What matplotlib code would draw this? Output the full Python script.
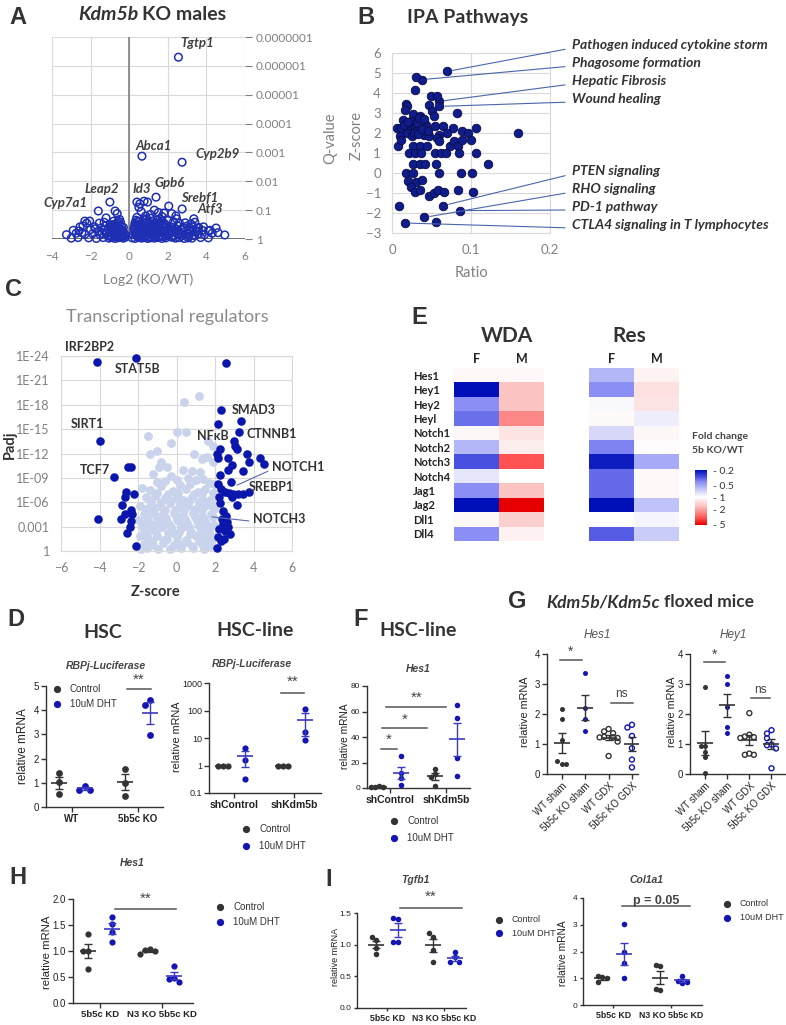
import numpy as np
import matplotlib
matplotlib.use("Agg")
import matplotlib.pyplot as plt
from matplotlib.colors import LinearSegmentedColormap, LogNorm
from matplotlib.lines import Line2D
from matplotlib.ticker import NullLocator

plt.rcParams['font.family'] = ['Liberation Sans', 'DejaVu Sans']
XL = ['Lato', 'DejaVu Sans']

# ---------------- A: volcano, Kdm5b KO males ----------------
volc_log2fc = [
    2.55, 0.66, 2.74, 1.39, -1.00, 0.40, 0.55, 0.77, 0.95, 2.05,
    2.74, -1.60, -0.73, -0.62, -1.20, -0.58, 0.50, 0.62, 1.30, 1.52,
    1.10, 1.80, 2.20, 2.42, 1.70, 0.35, 0.90, -2.30, -2.20, -1.30,
    -0.80, -0.50, 0.50, 0.80, 1.20, 1.60, 2.00, 2.30, 2.90, 3.20,
    3.40, -2.40, -1.80, -1.00, -0.90, -0.70, -0.40, 0.30, 0.60, 0.90,
    1.10, 1.40, 1.70, 1.90, 2.20, 2.50, 2.80, 3.00, 3.30, 3.60,
    4.50, -2.90, -2.60, -2.00, -1.60, -1.30, -1.10, -0.95, -0.80, -0.65,
    -0.50, -0.35, 0.25, 0.45, 0.70, 0.85, 1.00, 1.25, 1.45, 1.60,
    1.85, 2.05, 2.30, 2.55, 2.75, 2.95, 3.15, 3.45, 3.80, 4.10,
    4.60, -3.25, -2.75, -2.30, -1.90, -1.50, -1.20, -1.00, -0.85, -0.70,
    -0.55, -0.40, -0.25, 0.20, 0.35, 0.55, 0.75, 0.90, 1.05, 1.20,
    1.40, 1.55, 1.75, 1.95, 2.10, 2.30, 2.50, 2.70, 2.90, 3.10,
    3.30, 3.60, 3.90, 4.30, 4.95, -3.00, -2.65, -2.10, -1.70, -1.35,
    -1.05, -0.90, -0.75, -0.60, -0.45, -0.30, 0.15, 0.30, 0.50, 0.65,
    0.80, 0.95, 1.10, 1.30, 1.50, 1.70, 1.90, 2.20, 2.40, 2.60,
    2.85, 3.05, 3.25, 3.70, 4.10, -0.85, -0.60, -0.45, 0.30, 0.55,
    0.75, 1.00, 1.35, 1.55, 1.80, -0.75, -0.55, 0.40, 0.65, 1.15,
    1.35, 1.65, 2.00, 2.40, -0.95, -0.65, 0.50, 0.85, 1.30, 1.75,
    -2.05, -1.55, -1.75, 3.55, 3.85, 4.20, 3.35, -2.55, -0.30, 0.28,
    -0.95, -0.85, -0.75, -0.65, -0.55, -0.45, -0.35, -0.25, -0.90, -0.70,
    -0.50, -0.30, -0.80, -0.60, -0.40, -1.05, -1.15, -0.20, -0.62, -0.48,
    0.25, 0.35, 0.45, 0.55, 0.65, 0.75, 0.85, 0.95, 1.05, 1.15,
    1.25, 1.35, 1.45, 1.55, 1.65, 1.75, 1.85, 1.95, 2.05, 2.15,
    0.30, 0.40, 0.60, 0.70, 0.90, 1.00, 1.20, 1.30, 1.50, 1.60,
    1.80, 1.90, 2.00, 2.20, 2.30, 2.40, 2.60, 2.70, 2.80, 3.00,
    0.45, 0.70, 0.95, 1.20, 1.45, 1.70, 0.40, 0.85, 1.10, 1.60,
    3.10, 3.20, 3.40, 3.50, 2.60, 2.45, -1.40, -1.25, -1.45, -2.45,
]
volc_neglogp = [
    6.30, 2.87, 2.66, 1.45, 1.28, 1.28, 1.22, 1.31, 1.28, 1.14,
    1.04, 0.97, 0.97, 0.88, 0.73, 0.62, 1.10, 0.95, 1.00, 0.92,
    0.85, 0.90, 0.88, 0.80, 0.78, 0.65, 0.70, 0.62, 0.55, 0.58,
    0.62, 0.68, 0.60, 0.66, 0.62, 0.58, 0.64, 0.60, 0.56, 0.52,
    0.58, 0.45, 0.42, 0.48, 0.40, 0.46, 0.44, 0.48, 0.42, 0.47,
    0.44, 0.50, 0.43, 0.48, 0.41, 0.46, 0.40, 0.45, 0.42, 0.40,
    0.38, 0.30, 0.28, 0.33, 0.27, 0.32, 0.35, 0.30, 0.36, 0.28,
    0.34, 0.30, 0.33, 0.28, 0.35, 0.30, 0.36, 0.31, 0.27, 0.34,
    0.29, 0.35, 0.30, 0.27, 0.33, 0.29, 0.32, 0.26, 0.30, 0.28,
    0.22, 0.15, 0.20, 0.16, 0.18, 0.14, 0.19, 0.15, 0.20, 0.13,
    0.18, 0.15, 0.12, 0.16, 0.20, 0.14, 0.18, 0.12, 0.19, 0.15,
    0.17, 0.13, 0.20, 0.15, 0.18, 0.12, 0.16, 0.19, 0.14, 0.17,
    0.13, 0.18, 0.15, 0.20, 0.14, 0.03, 0.05, 0.04, 0.02, 0.05,
    0.03, 0.06, 0.02, 0.04, 0.05, 0.03, 0.04, 0.02, 0.05, 0.03,
    0.06, 0.02, 0.04, 0.03, 0.05, 0.02, 0.04, 0.06, 0.03, 0.05,
    0.02, 0.04, 0.03, 0.05, 0.04, 0.50, 0.55, 0.58, 0.55, 0.52,
    0.55, 0.53, 0.56, 0.52, 0.55, 0.22, 0.25, 0.23, 0.25, 0.24,
    0.22, 0.25, 0.23, 0.24, 0.09, 0.08, 0.09, 0.08, 0.09, 0.10,
    0.62, 0.55, 0.36, 0.38, 0.42, 0.30, 0.70, 0.42, 0.40, 0.42,
    0.40, 0.45, 0.38, 0.42, 0.36, 0.33, 0.28, 0.20, 0.26, 0.30,
    0.24, 0.12, 0.12, 0.16, 0.08, 0.10, 0.22, 0.06, 0.50, 0.10,
    0.38, 0.45, 0.36, 0.42, 0.48, 0.40, 0.44, 0.38, 0.42, 0.36,
    0.42, 0.38, 0.45, 0.40, 0.36, 0.44, 0.38, 0.42, 0.37, 0.33,
    0.20, 0.10, 0.28, 0.12, 0.24, 0.08, 0.26, 0.10, 0.22, 0.08,
    0.22, 0.10, 0.28, 0.25, 0.08, 0.36, 0.22, 0.10, 0.38, 0.20,
    0.62, 0.58, 0.62, 0.50, 0.66, 0.62, 0.75, 0.80, 0.72, 0.70,
    0.10, 0.24, 0.12, 0.28, 0.55, 0.70, 0.20, 0.45, 0.38, 0.22,
]
volc_pticks = ['1', '0.1', '0.01', '0.001', '0.0001', '0.00001', '0.000001', '0.0000001']

# ---------------- B: IPA pathways ----------------
ipa_labels = ['Pathogen induced cytokine storm', 'Phagosome formation', 'Hepatic Fibrosis',
              'Wound healing', 'PTEN signaling', 'RHO signaling', 'PD-1 pathway',
              'CTLA4 signaling in T lymphocytes']
# first eight points are the labelled pathways (same order as ipa_labels)
ipa_ratio = [
    0.070, 0.038, 0.059, 0.060, 0.065, 0.041, 0.086, 0.0165, 0.030, 0.029,
    0.049, 0.057, 0.047, 0.082, 0.018, 0.019, 0.016, 0.027, 0.036, 0.050,
    0.053, 0.006, 0.014, 0.012, 0.022, 0.029, 0.031, 0.043, 0.054, 0.065,
    0.077, 0.089, 0.096, 0.106, 0.160, 0.010, 0.019, 0.025, 0.040, 0.047,
    0.059, 0.069, 0.007, 0.011, 0.027, 0.035, 0.044, 0.057, 0.060, 0.073,
    0.078, 0.084, 0.088, 0.100, 0.022, 0.029, 0.037, 0.055, 0.062, 0.068,
    0.085, 0.106, 0.122, 0.026, 0.036, 0.042, 0.056, 0.018, 0.026, 0.059,
    0.087, 0.101, 0.020, 0.030, 0.038, 0.024, 0.029, 0.035, 0.047, 0.053,
    0.058, 0.066, 0.084, 0.103, 0.009, 0.056, 0.024, 0.032, 0.028, 0.033,
    0.038, 0.015, 0.020, 0.034, 0.041, 0.045,
]
ipa_z = [
    5.08, 4.67, 3.58, 3.33, -1.63, -2.22, -1.88, -2.50, 4.80, 4.13,
    3.87, 3.87, 3.42, 3.00, 3.47, 3.37, 3.17, 2.97, 2.87, 3.08,
    2.83, 2.25, 2.67, 2.25, 2.37, 2.25, 2.08, 2.42, 2.33, 2.33,
    2.25, 2.12, 2.00, 2.25, 2.00, 1.83, 2.00, 1.83, 1.92, 1.83,
    1.92, 2.00, 1.33, 1.67, 1.33, 1.33, 1.33, 1.75, 1.58, 1.33,
    1.58, 1.33, 1.67, 1.63, 1.00, 1.00, 1.00, 1.00, 1.00, 1.00,
    1.00, 1.00, 0.45, 0.45, 0.45, 0.45, 0.45, 0.00, 0.00, 0.00,
    0.00, 0.00, -0.42, -0.47, -0.33, -0.72, -0.97, -0.83, -1.13, -1.00,
    -0.83, -0.97, -0.83, -0.97, -1.63, -2.43, 2.60, 2.50, 2.00, 1.95,
    2.20, 2.40, 2.55, 2.75, 2.70, 2.10,
]

# ---------------- C: transcriptional regulators ----------------
tr_light_z = [
    1.18, 0.40, 0.00, 0.50, -1.50, 1.88, 1.60, 1.30, 1.90, -0.80,
    -0.50, -0.90, 0.35, 0.80, 1.20, -0.30, 0.60, 1.00, 1.40, -1.00,
    -0.60, 1.70, 0.20, -1.80, -1.40, -0.20, 0.50, 1.10, 1.50, 1.90,
    -1.60, -1.10, -0.60, 0.00, 0.35, 0.80, 1.30, 1.75, -1.90, -1.35,
    -0.85, -0.35, 0.15, 0.60, 1.05, 1.50, 1.95, -1.70, -1.20, -0.70,
    -0.15, 0.35, 0.85, 1.30, 1.80, -1.95, -1.45, -0.95, -0.45, 0.05,
    0.55, 1.05, 1.55, 1.95, -1.75, -1.25, -0.75, -0.25, 0.25, 0.75,
    1.25, 1.70, -1.90, -1.50, -1.00, -0.50, 0.00, 0.50, 1.00, 1.45,
    1.90, -1.70, -1.20, -0.70, -0.20, 0.30, 0.80, 1.30, 1.75, -1.40,
    -1.00, -0.30, 1.65, 0.90, -1.60, -0.10, 1.55, -1.15, 0.45, 1.95,
    -1.85, -1.55, -1.25, -0.95, -0.65, -0.35, -0.05, 0.25, 0.55, 0.85,
    1.15, 1.45, 1.75, -1.65, -1.05, -0.45, 0.15, 0.70, 1.20, 1.65,
    -1.80, -1.30, -0.80, -0.30, 0.20, 0.65, 1.10, 1.60, -1.55, -1.05,
    -0.55, -0.05, 0.45, 0.95, 1.45, 1.90, -1.60, -1.10, -0.60, -0.10,
    0.40, 0.90, 1.35, 1.80, -1.30, -0.80, -0.30, 0.20, 0.65, 1.15,
    1.55, -1.00, -0.45, 0.10, 0.90, 1.35, -0.80, 0.00, 0.70, -1.20,
]
tr_light_p = [
    19.05, 18.35, 14.66, 14.66, 14.20, 12.90, 11.60, 11.30, 11.00, 10.90,
    10.40, 10.30, 10.00, 9.90, 9.70, 9.20, 9.00, 8.70, 8.90, 8.50,
    8.60, 8.40, 8.10, 7.70, 7.50, 7.40, 7.60, 7.30, 7.60, 7.10,
    6.60, 6.80, 6.50, 6.80, 6.30, 6.60, 6.40, 6.30, 5.60, 5.80,
    5.50, 5.90, 5.40, 5.70, 5.30, 5.60, 5.20, 4.60, 4.80, 4.50,
    4.70, 4.40, 4.70, 4.30, 4.60, 3.80, 3.60, 3.90, 3.50, 3.80,
    3.40, 3.70, 3.50, 3.20, 2.80, 2.60, 2.90, 2.50, 2.80, 2.40,
    2.70, 2.50, 1.90, 1.60, 1.80, 1.50, 1.70, 1.40, 1.80, 1.50,
    1.70, 0.90, 0.70, 1.00, 0.60, 0.90, 0.60, 0.90, 0.60, 12.00,
    12.30, 13.30, 13.60, 12.00, 2.20, 2.10, 1.10, 3.20, 3.10, 8.30,
    0.30, 0.40, 1.20, 0.30, 1.30, 0.30, 1.00, 0.40, 1.10, 0.35,
    1.20, 0.30, 1.25, 2.40, 2.30, 2.20, 2.30, 2.10, 2.20, 2.00,
    3.30, 3.10, 3.30, 3.00, 3.40, 3.00, 3.20, 3.00, 4.20, 4.30,
    4.10, 4.30, 4.00, 4.20, 4.00, 4.20, 5.20, 5.30, 5.00, 5.10,
    5.10, 5.00, 5.10, 5.70, 6.20, 6.00, 6.10, 6.00, 6.10, 6.00,
    6.00, 7.20, 7.00, 7.20, 7.00, 7.00, 8.00, 8.80, 8.20, 9.50,
]
tr_sig_z = [
    -4.11, -2.10, 2.56, -4.00, -3.23, -2.50, -2.35, -4.06, 2.29, 3.34,
    2.15, 3.25, 3.00, 2.25, 3.12, 3.64, 2.65, 2.18, 4.35, 4.55,
    3.77, 2.86, 2.70, 3.43, 2.25, 2.82, 2.17, 2.30, 2.50, 2.75,
    2.95, 3.20, 3.45, 3.75, 2.90, 3.12, 2.28, 2.40, 2.55, 2.35,
    2.60, 2.40, 2.70, 2.50, 2.80, 2.20, 2.15, 2.30, 2.10, 2.45,
    -2.60, -2.70, -2.20, -2.85, -2.35, -2.65, -2.90, -2.35, -2.55, -2.10,
    -2.40, -2.30, 2.12, 3.05, 2.20, 2.62,
]
tr_sig_p = [
    23.30, 23.75, 23.10, 13.50, 9.13, 10.36, 10.36, 3.90, 17.30, 16.00,
    15.60, 14.66, 13.50, 12.57, 12.50, 12.00, 11.40, 11.40, 11.40, 10.70,
    11.00, 10.60, 10.00, 9.80, 9.30, 8.50, 8.30, 7.60, 7.30, 7.20,
    7.00, 7.00, 7.00, 7.30, 6.60, 5.65, 5.90, 4.90, 4.30, 3.90,
    3.60, 3.30, 2.90, 2.50, 2.05, 2.70, 1.70, 1.20, 0.40, 1.50,
    7.30, 6.70, 7.00, 5.70, 5.10, 4.50, 3.90, 3.70, 2.20, 0.60,
    3.00, 4.60, 12.00, 12.90, 6.60, 3.00,
]
tr_pticks = ['1', '0.001', '1E-06', '1E-09', '1E-12', '1E-15', '1E-18', '1E-21', '1E-24']

# ---------------- E: heatmap fold change 5b KO/WT ----------------
genes = ['Hes1', 'Hey1', 'Hey2', 'Heyl', 'Notch1', 'Notch2', 'Notch3', 'Notch4',
         'Jag1', 'Jag2', 'Dll1', 'Dll4']
wda_f = [1.05, 0.20, 0.40, 0.35, 1.06, 0.55, 0.30, 0.80, 0.40, 0.20, 1.04, 0.40]
wda_m = [1.05, 1.60, 1.60, 2.40, 1.20, 1.12, 3.30, 1.00, 1.60, 5.00, 1.45, 1.10]
res_f = [0.55, 0.40, 0.95, 1.03, 0.72, 0.38, 0.22, 0.34, 0.34, 0.20, 1.00, 0.32]
res_m = [1.08, 1.25, 1.22, 0.85, 1.06, 1.02, 0.50, 1.05, 1.04, 0.60, 0.92, 0.65]

# ---------------- D, F, G, H, I: qPCR / luciferase ----------------
hsc_cats = ['WT', '5b5c KO']
hsc_ctrl = [[1.42, 1.03, 0.55], [1.59, 1.00, 0.46]]
hsc_dht = [[0.88, 0.72, 0.72], [4.42, 4.23, 2.97]]

line_cats = ['shControl', 'shKdm5b']
line_ctrl = [[1.0, 1.0, 1.0], [1.0, 1.0, 1.0]]
line_dht = [[4.5, 1.65, 0.31], [115.0, 16.5, 8.3]]

f_cats = ['shControl', 'shKdm5b']
f_ctrl = [[1.2, 0.9, 1.1, 0.8], [15.2, 10.8, 9.0, 1.6]]
f_dht = [[25.0, 12.0, 8.0, 2.0], [65.0, 55.0, 23.6, 9.4]]

g_cats = ['WT sham', '5b5c KO sham', 'WT GDX', '5b5c KO GDX']
g_hes1 = [[2.17, 1.83, 1.12, 0.35, 0.42, 0.35], [3.38, 2.20, 1.84, 1.44],
          [1.50, 1.42, 1.36, 1.24, 1.22, 1.22, 1.20, 1.08, 0.60],
          [1.64, 1.55, 1.27, 0.86, 0.48, 0.22]]
g_hey1 = [[2.91, 0.95, 0.95, 0.75, 0.56, 0.03], [3.27, 3.00, 2.22, 1.58, 1.38],
          [2.03, 1.31, 1.25, 1.23, 1.20, 0.68, 0.64, 0.64],
          [1.46, 1.35, 1.19, 0.98, 0.96, 0.85, 0.19]]

kd_cats = ['5b5c KD', 'N3 KO 5b5c KD']
h_ctrl = [[1.33, 1.00, 1.00, 0.65], [1.04, 1.02, 1.00, 0.94]]
h_dht = [[1.65, 1.52, 1.37, 1.18], [0.72, 0.49, 0.47, 0.41]]
tgfb_ctrl = [[1.07, 1.12, 0.86, 0.95], [1.12, 1.19, 0.92, 0.72]]
tgfb_dht = [[1.41, 1.42, 1.05, 1.05], [0.88, 0.80, 0.73, 0.73]]
col_ctrl = [[1.06, 1.09, 1.00, 0.85], [1.44, 1.50, 0.56, 0.60]]
col_dht = [[3.04, 2.00, 1.56, 1.02], [1.10, 0.81, 0.90, 0.86]]

# ======================================================================
W, H = 786, 1025
fig = plt.figure(figsize=(W / 100, H / 100), dpi=100)
renderer = fig.canvas.get_renderer()

CTRL = '#333333'
DHT = '#1414b4'
DHT_LINE = '#3a3ac0'
GRID = '#d9d9d9'
GREY = '#808080'


def box(l, t, r, b):
    return fig.add_axes([l / W, 1 - b / H, (r - l) / W, (b - t) / H])


def ftext(x, y, s, **kw):
    kw.setdefault('ha', 'center')
    kw.setdefault('va', 'center')
    return fig.text(x / W, 1 - y / H, s, **kw)


def right_edge(t):
    return t.get_window_extent(renderer).x1


def set_family(ax, fam):
    for lab in ax.get_xticklabels() + ax.get_yticklabels():
        lab.set_fontfamily(fam)


# panel letters
for s, (x, y) in {'A': (18, 18), 'B': (366, 17), 'C': (14, 290), 'D': (16, 619),
                  'E': (419, 318), 'F': (361, 620), 'G': (517, 602),
                  'H': (18, 878), 'I': (329, 880)}.items():
    ftext(x, y, s, fontsize=17, fontweight='bold', color='#333333')

# ---------------- A ----------------
axA = box(52, 37, 245, 239)
axA.scatter(volc_log2fc, volc_neglogp, s=30, facecolors='none', edgecolors='#1f2fb4',
            linewidths=1.1, zorder=3, clip_on=False)
axA.set_xlim(-4, 6)
axA.set_ylim(0, 7)
axA.set_xticks(range(-4, 7, 2))
axA.set_yticks(range(8))
axA.set_yticklabels(volc_pticks)
axA.grid(True, color=GRID, lw=0.8)
axA.set_axisbelow(True)
for sp in axA.spines.values():
    sp.set_visible(False)
axA.axhline(0, color='#595959', lw=1.2, zorder=2)
axA.axvline(0, color='#7f7f7f', lw=1.2, zorder=2)
axA.yaxis.tick_right()
axA.tick_params(axis='y', length=5, width=0.8, color='#7f7f7f', labelcolor=GREY,
                labelsize=8.5, pad=3)
axA.tick_params(axis='x', length=0, labelcolor=GREY, labelsize=8.5, pad=9)
set_family(axA, XL)
t = ftext(78, 15, 'Kdm5b', ha='left', fontsize=14, fontweight='bold', style='italic',
          color='#333333', family=XL)
ftext(right_edge(t) + 4, 15, 'KO males', ha='left', fontsize=14, fontweight='bold',
      color='#333333', family=XL)
ftext(148, 280, 'Log2 (KO/WT)', fontsize=10, color=GREY, family=XL)
for name, x, y in [('Tgtp1', 197, 43), ('Abca1', 154, 146), ('Cyp2b9', 218, 154),
                   ('Gpb6', 170, 183), ('Id3', 142, 189), ('Leap2', 102, 189),
                   ('Cyp7a1', 65, 203), ('Srebf1', 200, 198), ('Atf3', 210, 209)]:
    ftext(x, y, name, fontsize=9.5, fontweight='bold', style='italic', color='#404040',
          family=XL)

# ---------------- B ----------------
axB = box(392, 53, 550, 233)
axB.scatter(ipa_ratio, ipa_z, s=38, c='#0f1d8c', edgecolors='#0a0a40', linewidths=0.6,
            zorder=3, clip_on=False)
axB.set_xlim(0, 0.2)
axB.set_ylim(-3, 6)
axB.set_xticks([0, 0.1, 0.2])
axB.set_xticklabels(['0', '0.1', '0.2'])
axB.set_yticks(range(-3, 7))
axB.grid(True, color=GRID, lw=0.8)
axB.set_axisbelow(True)
for sp in axB.spines.values():
    sp.set_color(GRID)
axB.tick_params(length=0, labelcolor=GREY, labelsize=9.5, pad=8)
set_family(axB, XL)
ftext(407, 17, 'IPA Pathways', ha='left', fontsize=14, fontweight='bold', color='#333333',
      family=XL)
ftext(357, 135, 'Z-score', rotation=90, fontsize=10.5, color=GREY, family=XL)
ftext(330, 138, 'Q-value', rotation=90, fontsize=10.5, color=GREY, family=XL)
ftext(471, 273, 'Ratio', fontsize=10.5, color=GREY, family=XL)
for i, (name, y) in enumerate(zip(ipa_labels, [45, 63, 81, 99, 171, 189, 207, 225])):
    axB.annotate(name, xy=(ipa_ratio[i], ipa_z[i]), xycoords='data',
                 xytext=(572, H - y), textcoords='figure pixels', ha='left', va='center',
                 fontsize=10, fontweight='bold', style='italic', color='#333333',
                 family=XL, annotation_clip=False,
                 arrowprops=dict(arrowstyle='-', color='#4a66ac', lw=0.8,
                                 relpos=(0, 0.25), shrinkA=3, shrinkB=4))

# ---------------- C ----------------
axC = box(61, 356, 292, 551)
axC.scatter(tr_light_z, tr_light_p, s=40, c='#c9d3ec', linewidths=0, zorder=2,
            clip_on=False)
axC.scatter(tr_sig_z, tr_sig_p, s=38, c='#0b16ac', linewidths=0, zorder=3, clip_on=False)
axC.set_xlim(-6, 6)
axC.set_ylim(0, 24)
axC.set_xticks(range(-6, 7, 2))
axC.set_yticks(range(0, 25, 3))
axC.set_yticklabels(tr_pticks)
axC.grid(True, color=GRID, lw=0.8)
axC.set_axisbelow(True)
for sp in axC.spines.values():
    sp.set_color(GRID)
axC.tick_params(length=0, labelcolor=GREY, labelsize=9, pad=8)
set_family(axC, XL)
ftext(167, 317, 'Transcriptional regulators', fontsize=13, color='#8a8a8a', family=XL)
ftext(10, 445, 'Padj', rotation=90, fontsize=10.5, fontweight='bold', color='#333333',
      family=XL)
ftext(156, 592, 'Z-score', fontsize=10.5, fontweight='bold', color='#333333', family=XL)
for name, x, y in [('IRF2BP2', 90, 347), ('STAT5B', 138, 369), ('SIRT1', 87, 424),
                   ('TCF7', 95, 470), ('SMAD3', 254, 410), ('NFκB', 213, 436),
                   ('CTNNB1', 272, 434), ('SREBP1', 271, 487)]:
    ftext(x, y, name, fontsize=9, fontweight='bold', color='#333333', family=XL)
for name, tgt, x, y in [('NOTCH1', (3.14, 8.1), 272, 467), ('NOTCH3', (1.84, 4.2), 253, 519)]:
    axC.annotate(name, xy=tgt, xycoords='data', xytext=(x, H - y),
                 textcoords='figure pixels', ha='left', va='center', fontsize=9,
                 fontweight='bold', color='#333333', family=XL, annotation_clip=False,
                 arrowprops=dict(arrowstyle='-', color='#5a6aa6', lw=0.8,
                                 relpos=(0, 0.3), shrinkA=1, shrinkB=0))

# ---------------- E ----------------
cmap = LinearSegmentedColormap.from_list('fc', [
    (0.0, '#0010b8'), (0.126, '#4850e0'), (0.215, '#8a8ef5'), (0.314, '#b4b8f8'),
    (0.43, '#e6e6fa'), (0.5, '#ffffff'), (0.57, '#fde0e0'), (0.646, '#fcc4c4'),
    (0.772, '#fc8888'), (0.871, '#ff5252'), (1.0, '#e60000')])
norm = LogNorm(0.2, 5)
axW = box(454, 368, 544, 541)
axR = box(589, 368, 679, 541)
for ax, f, m in [(axW, wda_f, wda_m), (axR, res_f, res_m)]:
    im = ax.imshow(np.column_stack([f, m]), cmap=cmap, norm=norm, aspect='auto',
                   interpolation='nearest')
    ax.set_xticks([0, 1])
    ax.set_xticklabels(['F', 'M'], fontweight='bold', fontsize=9, family=XL)
    ax.xaxis.tick_top()
    ax.tick_params(axis='x', length=0, pad=2, labelcolor='#222222')
    for sp in ax.spines.values():
        sp.set_visible(False)
    ax.set_yticks([])
axW.set_yticks(range(len(genes)))
axW.set_yticklabels(genes, ha='left', fontsize=8, fontweight='bold', family=XL,
                    color='#222222')
axW.tick_params(axis='y', length=0, pad=29.5)
ftext(507, 336, 'WDA', fontsize=15, fontweight='bold', color='#333333', family=XL)
ftext(629, 336, 'Res', fontsize=15, fontweight='bold', color='#333333', family=XL)
cax = box(695, 470, 707, 525)
cb = fig.colorbar(im, cax=cax, ticks=[0.2, 0.5, 1, 2, 5])
cb.outline.set_visible(False)
cax.yaxis.set_minor_locator(NullLocator())
cax.invert_yaxis()
cb.set_ticklabels(['- 0.2', '- 0.5', '- 1', '- 2', '- 5'])
cax.tick_params(length=0, labelsize=7.5, pad=4, labelcolor='#333333')
set_family(cax, XL)
ftext(692, 437, 'Fold change', ha='left', fontsize=7.5, fontweight='bold', color='#444444',
      family=XL)
ftext(692, 450, '5b KO/WT', ha='left', fontsize=7.5, fontweight='bold', color='#444444',
      family=XL)


# ---------------- prism helpers ----------------
def prism(ax, xlim, ylim, yticks, yticklabels=None, log=False, lsize=7, tlen=3.5):
    if log:
        ax.set_yscale('log')
        ax.yaxis.set_minor_locator(NullLocator())
    ax.set_xlim(*xlim)
    ax.set_ylim(*ylim)
    ax.set_yticks(yticks)
    if yticklabels is not None:
        ax.set_yticklabels(yticklabels)
    for s in ['top', 'right']:
        ax.spines[s].set_visible(False)
    for s in ['left', 'bottom']:
        ax.spines[s].set_color('#333333')
        ax.spines[s].set_linewidth(1.0)
    ax.tick_params(length=tlen, width=1, color='#333333', labelcolor='#222222',
                   labelsize=lsize, pad=1.5)


def spread(ax, xc, vals, step, tol):
    pts = ax.transData.transform(np.column_stack([np.full(len(vals), xc), vals]))
    placed, xs = [], []
    for px, py in pts:
        n = sum(1 for q in placed if abs(q - py) < tol)
        k = [0, -1, 1, -2, 2, -3, 3, -4, 4][n]
        placed.append(py)
        xs.append(px + k * step)
    back = ax.transData.inverted().transform(np.column_stack([xs, pts[:, 1]]))
    return back[:, 0]


def dots(ax, xc, vals, color, line, s=22, hollow=False, step=5.5, ms=12):
    xs = spread(ax, xc, vals, step, step + 0.5)
    if hollow:
        ax.scatter(xs, vals, s=s, facecolors='none', edgecolors=color, linewidths=1.0,
                   zorder=3, clip_on=False)
    else:
        ax.scatter(xs, vals, s=s, c=color, linewidths=0, zorder=3, clip_on=False)
    m = np.mean(vals)
    se = np.std(vals, ddof=1) / np.sqrt(len(vals))
    ax.errorbar([xc], [m], yerr=[se], fmt='none', ecolor=line, elinewidth=1, capsize=3,
                capthick=1, zorder=4)
    ax.plot([xc], [m], marker='_', ms=ms, mew=1.2, color=line, zorder=4)


def cats(ax, labels, fs=7, bold=True, rot=0):
    ax.set_xticks(range(len(labels)))
    if rot:
        ax.set_xticklabels(labels, rotation=rot, ha='right', rotation_mode='anchor',
                           fontsize=fs)
    else:
        ax.set_xticklabels(labels, fontsize=fs, fontweight='bold' if bold else 'normal')


def sig(ax, x0, x1, y, text, ty, fs=11, weight='normal'):
    ax.plot([x0, x1], [y, y], color='#555555', lw=1.1, clip_on=False)
    ax.text((x0 + x1) / 2, ty, text, ha='center', va='center', fontsize=fs,
            color='#444444', fontweight=weight, clip_on=False)


def legend_at(x, y, dy, fs=7):
    for i, (lab, col) in enumerate([('Control', CTRL), ('10uM DHT', DHT)]):
        fig.add_artist(Line2D([x / W], [1 - (y + i * dy) / H], transform=fig.transFigure,
                              marker='o', ms=4.2, color=col, lw=0))
        ftext(x + 13, y + i * dy, lab, ha='left', fontsize=fs, color='#333333')


OFF = 0.19

# ---------------- D (HSC) ----------------
ftext(103, 633, 'HSC', fontsize=14, fontweight='bold', color='#333333', family=XL)
ftext(255, 630, 'HSC-line', fontsize=14, fontweight='bold', color='#333333', family=XL)
axD1 = box(46, 686, 163, 807)
prism(axD1, (-0.394, 1.38), (0, 5), range(6))
cats(axD1, hsc_cats)
for i in range(2):
    dots(axD1, i - OFF, hsc_ctrl[i], CTRL, CTRL, s=24)
    dots(axD1, i + OFF, hsc_dht[i], DHT, DHT_LINE, s=24)
sig(axD1, 0.83, 1.2, 4.88, '**', 5.27)
ftext(106, 666, 'RBPj-Luciferase', fontsize=7.5, fontweight='bold', style='italic',
      color='#444444')
ftext(23, 746, 'relative mRNA', rotation=90, fontsize=8.5, color='#222222')
legend_at(57, 689, 15)

axD2 = box(209, 683, 321, 793)
prism(axD2, (-0.417, 1.45), (0.1, 1000), [0.1, 1, 10, 100, 1000],
      ['0.1', '1', '10', '100', '1000'], log=True, lsize=6.5)
cats(axD2, line_cats, fs=7.5)
for i in range(2):
    dots(axD2, i - OFF, line_ctrl[i], CTRL, CTRL, s=20, step=5)
    dots(axD2, i + OFF, line_dht[i], DHT, DHT_LINE, s=20, step=5)
sig(axD2, 0.78, 1.16, 436, '**', 1150)
ftext(252, 664, 'RBPj-Luciferase', fontsize=7.5, fontweight='bold', style='italic',
      color='#444444')
ftext(177, 737, 'relative mRNA', rotation=90, fontsize=7.8, color='#222222')
legend_at(246, 829, 17)

# ---------------- F ----------------
ftext(418, 630, 'HSC-line', fontsize=14, fontweight='bold', color='#333333', family=XL)
axF = box(367, 686, 470, 788)
prism(axF, (-0.41, 1.43), (0, 80), [0, 20, 40, 60, 80], lsize=6)
cats(axF, f_cats, fs=7.5)
for i in range(2):
    dots(axF, i - OFF, f_ctrl[i], CTRL, CTRL, s=16, step=4)
    dots(axF, i + OFF, f_dht[i], DHT, DHT_LINE, s=16, step=4)
sig(axF, -0.16, 0.125, 30.4, '*', 37.5)
sig(axF, -0.15, 0.67, 46.7, '*', 53.5)
sig(axF, -0.07, 1.01, 63.8, '**', 70.5)
ftext(418, 669, 'Hes1', fontsize=7.5, fontweight='bold', style='italic', color='#444444')
ftext(345, 736, 'relative mRNA', rotation=90, fontsize=7.3, color='#222222')
legend_at(394, 821, 17)

# ---------------- G ----------------
t = ftext(546, 602, 'Kdm5b/Kdm5c', ha='left', fontsize=12.5, fontweight='bold',
          style='italic', color='#333333', family=XL)
ftext(right_edge(t) + 4, 602, 'floxed mice', ha='left', fontsize=12.5, fontweight='bold',
      color='#333333', family=XL)
g_style = [(CTRL, False), (DHT, False), (CTRL, True), (DHT, True)]
for ax_box, xlim, vals, title, tx, lx, sigs in [
        ((547, 654, 638, 774), (-0.64, 3.26), g_hes1, 'Hes1', 597, 525,
         [(-0.09, 0.84, 3.81, '*', 4.07), (2.1, 3.03, 2.36, 'ns', 2.67)]),
        ((690, 654, 787, 774), (-0.68, 3.7), g_hey1, 'Hey1', 733, 672,
         [(-0.05, 0.91, 3.72, '*', 3.97), (2.08, 2.92, 2.53, 'ns', 2.8)])]:
    ax = box(*ax_box)
    prism(ax, xlim, (0, 4), range(5), lsize=7)
    cats(ax, g_cats, fs=7, rot=45)
    for i, (col, hollow) in enumerate(g_style):
        dots(ax, i, vals[i], col, '#333333', s=13, hollow=hollow, step=4.5, ms=11)
    for x0, x1, y, tx_, ty in sigs:
        sig(ax, x0, x1, y, tx_, ty, fs=10 if tx_ == '*' else 8.5)
    ftext(tx, 635, title, fontsize=8.5, style='italic', color='#555555')
    ftext(lx, 712, 'relative mRNA', rotation=90, fontsize=7.8, color='#222222')

# ---------------- H ----------------
axH = box(73, 899, 193, 1003)
prism(axH, (-0.435, 1.5), (0, 2), [0, 0.5, 1, 1.5, 2], ['0.0', '0.5', '1.0', '1.5', '2.0'])
cats(axH, kd_cats, fs=6.8)
for i in range(2):
    dots(axH, i - OFF, h_ctrl[i], CTRL, CTRL, s=20, step=5)
    dots(axH, i + OFF, h_dht[i], DHT, DHT_LINE, s=20, step=5)
sig(axH, 0.24, 1.23, 1.81, '**', 2.0)
ftext(132, 863, 'Hes1', fontsize=7.5, fontweight='bold', style='italic', color='#444444')
ftext(47, 952, 'relative mRNA', rotation=90, fontsize=8.2, color='#222222')
legend_at(220, 907, 15)

# ---------------- I ----------------
axI1 = box(357, 913, 466, 1008)
prism(axI1, (-0.53, 1.39), (0, 1.5), [0, 0.5, 1, 1.5], ['0.0', '0.5', '1.0', '1.5'],
      lsize=6, tlen=2.5)
cats(axI1, kd_cats, fs=6.3)
for i in range(2):
    dots(axI1, i - OFF, tgfb_ctrl[i], CTRL, CTRL, s=16, step=4.5)
    dots(axI1, i + OFF, tgfb_dht[i], DHT, DHT_LINE, s=16, step=4.5)
sig(axI1, 0.23, 1.32, 1.58, '**', 1.75)
ftext(415, 880, 'Tgfb1', fontsize=7.5, fontweight='bold', style='italic', color='#444444')
ftext(335, 957, 'relative mRNA', rotation=90, fontsize=6.5, color='#222222')
legend_at(499, 920, 13, fs=6.5)

axI2 = box(583, 898, 702, 1005)
prism(axI2, (-0.52, 1.53), (0, 4), range(5), lsize=6, tlen=2.5)
cats(axI2, kd_cats, fs=6.3)
for i in range(2):
    dots(axI2, i - OFF, col_ctrl[i], CTRL, CTRL, s=16, step=4.5)
    dots(axI2, i + OFF, col_dht[i], DHT, DHT_LINE, s=16, step=4.5)
sig(axI2, 0.16, 1.33, 3.69, 'p = 0.05', 3.87, fs=9, weight='bold')
ftext(647, 880, 'Col1a1', fontsize=7.5, fontweight='bold', style='italic', color='#444444')
ftext(563, 953, 'relative mRNA', rotation=90, fontsize=7.3, color='#222222')
legend_at(727, 904, 14, fs=6.5)

fig.savefig('out.png', dpi=100)
